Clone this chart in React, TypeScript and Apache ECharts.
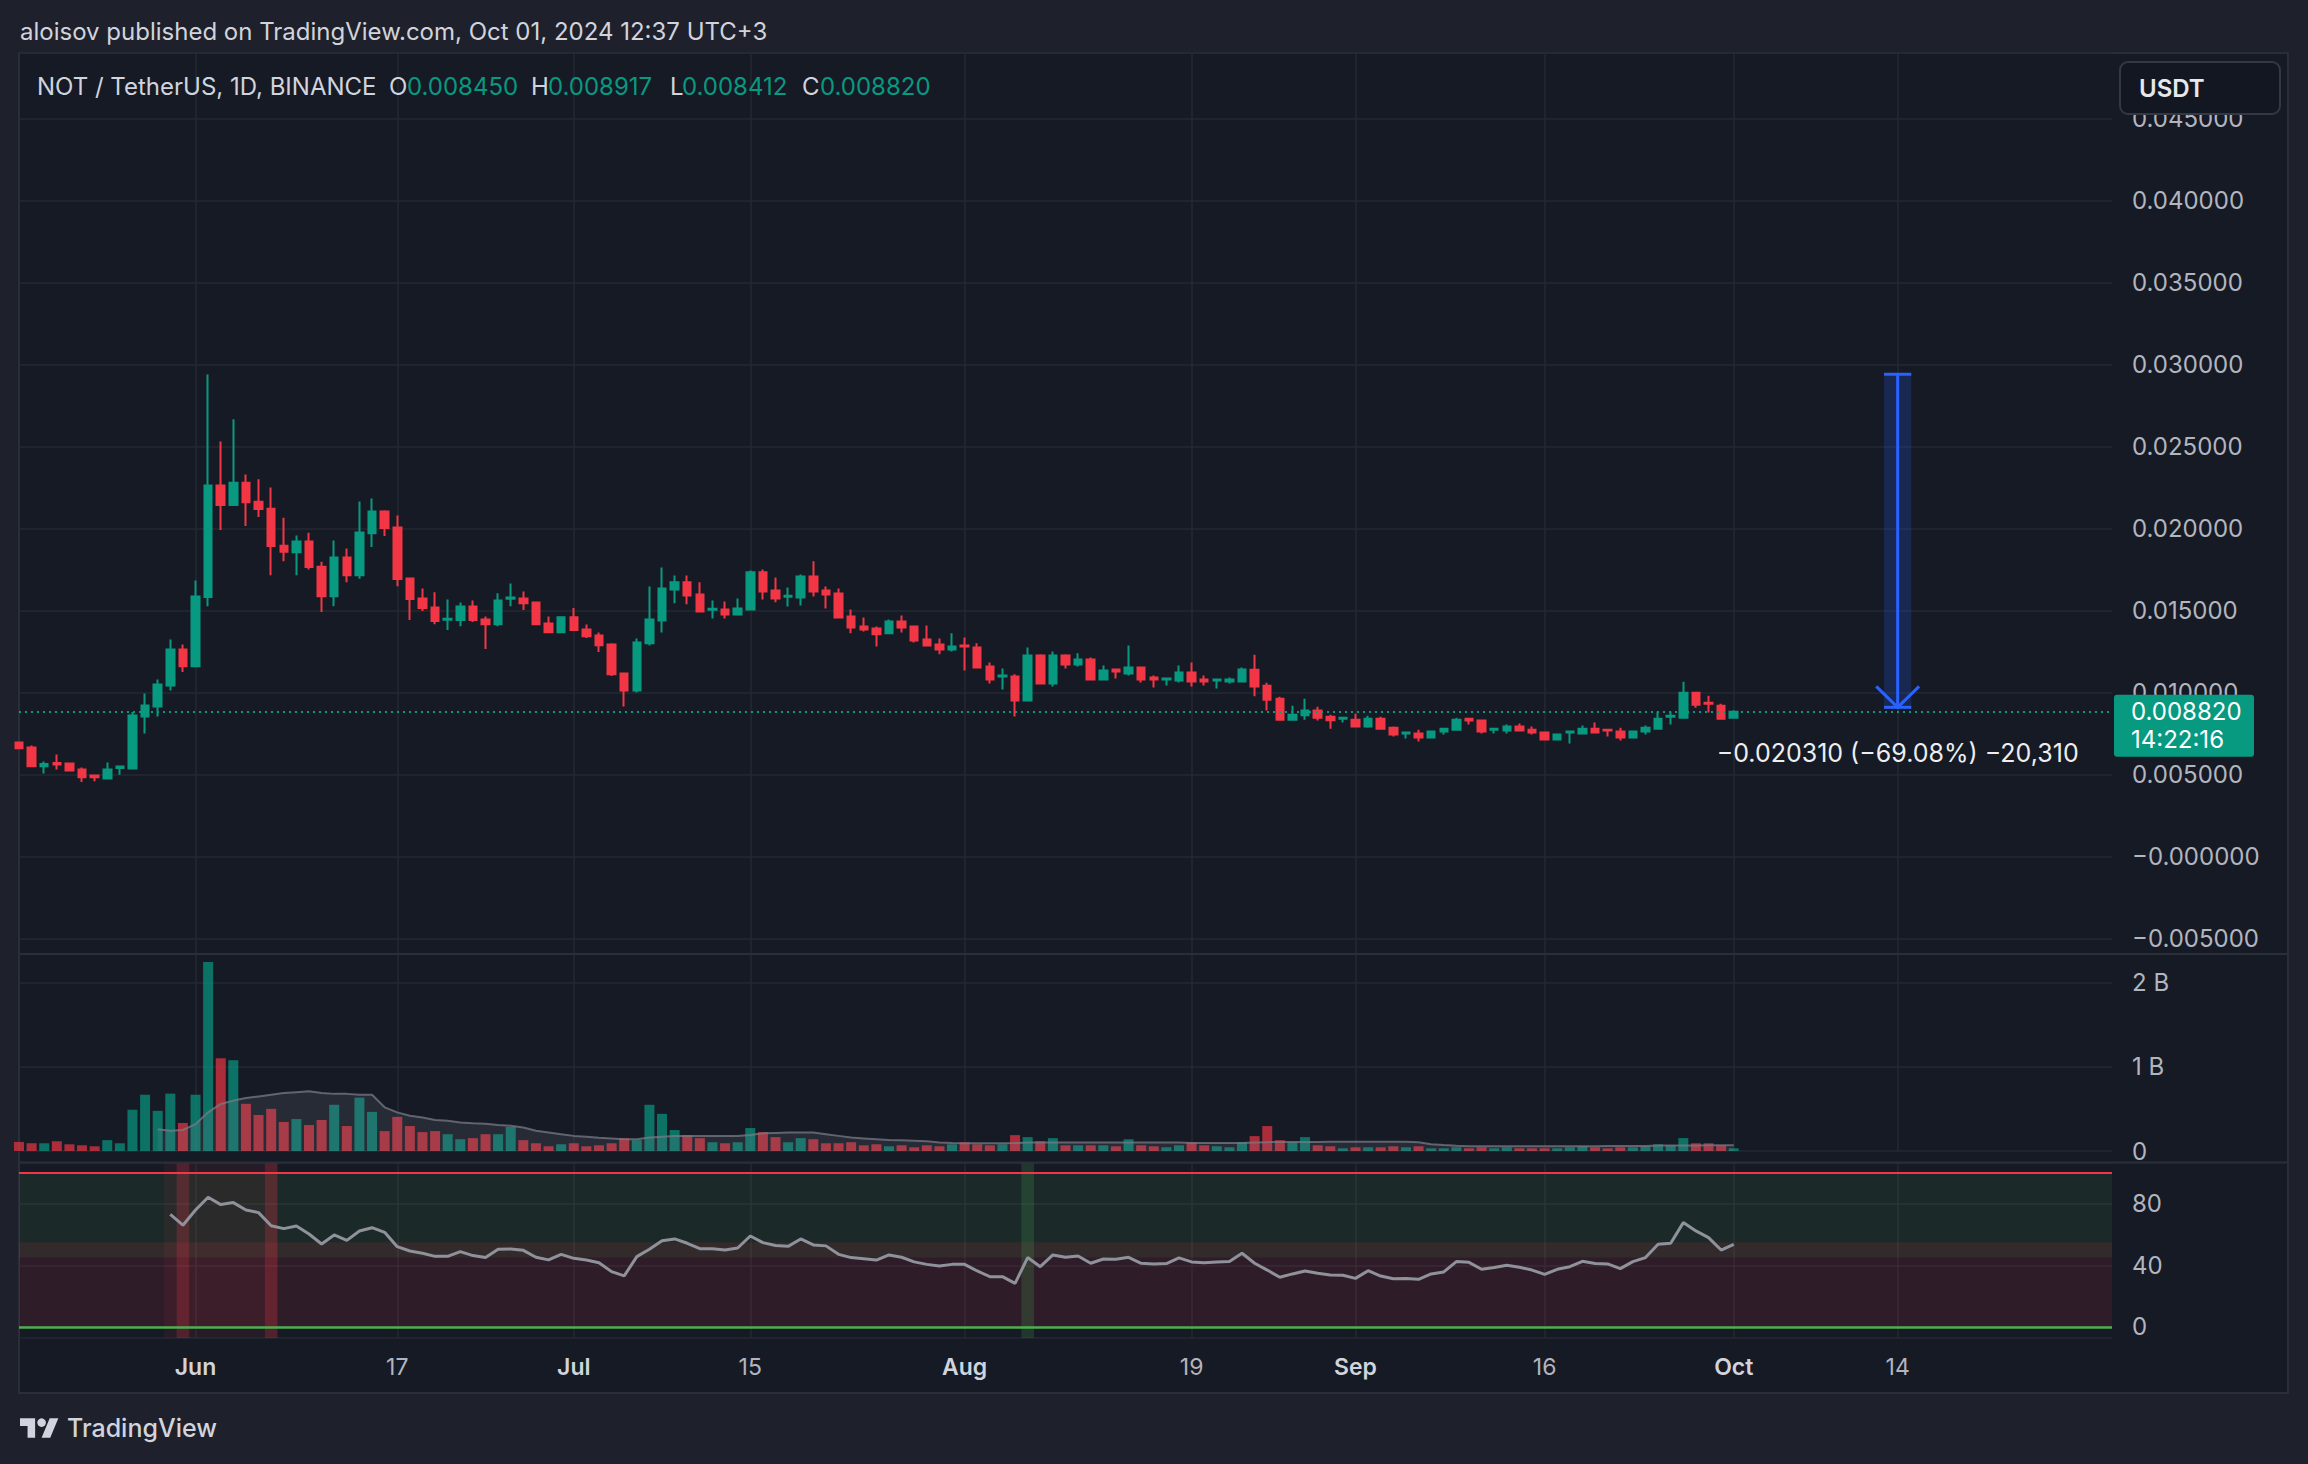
import React, { useEffect, useRef } from "react";
import * as echarts from "echarts";

const FONT = "Inter, 'Noto Sans', Roboto, sans-serif";
const UP = "#089981";
const DOWN = "#f23645";
const OUTER_BG = "#1e212b";
const INNER_BG = "#161a25";
const GRID_LINE = "#242833";
const AXIS_TEXT = "#b2b5be";
const TEXT = "#d1d4dc";

// ---------- categories (daily, 2024) ----------
const MONTH_SPANS: [string, number, number][] = [
  ["2024-05", 18, 31],
  ["2024-06", 1, 30],
  ["2024-07", 1, 31],
  ["2024-08", 1, 31],
  ["2024-09", 1, 30],
  ["2024-10", 1, 31],
];
const CATEGORIES: string[] = [];
for (const [ym, a, b] of MONTH_SPANS) {
  for (let d = a; d <= b; d++) CATEGORIES.push(`${ym}-${String(d).padStart(2, "0")}`);
}

const X_TICK_DATES = [
  "2024-06-01", "2024-06-17", "2024-07-01", "2024-07-15", "2024-08-01",
  "2024-08-19", "2024-09-01", "2024-09-16", "2024-10-01", "2024-10-14",
];
const X_TICK_LABELS = ["Jun", "17", "Jul", "15", "Aug", "19", "Sep", "16", "Oct", "14"];

// ---------- candles: [open, close, low, high] ----------
const CANDLES_MAY = [
  [0.00695, 0.0066, 0.00655, 0.007],
  [0.00664, 0.0055, 0.0055, 0.00676],
  [0.0055, 0.00564, 0.00505, 0.00579],
  [0.0057, 0.0056, 0.0053, 0.00621],
  [0.00567, 0.00524, 0.00518, 0.00573],
  [0.0053, 0.00483, 0.00453, 0.00542],
  [0.00493, 0.00483, 0.00459, 0.00493],
  [0.00475, 0.0053, 0.0047, 0.00573],
  [0.00539, 0.00548, 0.00498, 0.00554],
  [0.00536, 0.00859, 0.0053, 0.0088],
  [0.00853, 0.0092, 0.0075, 0.00993],
  [0.00914, 0.01048, 0.00853, 0.01079],
  [0.01042, 0.01262, 0.01012, 0.01323],
  [0.01262, 0.0116, 0.01124, 0.01292],
];
const CANDLES_JUN = [
  [0.0116, 0.01585, 0.0116, 0.01683],
  [0.01581, 0.02262, 0.01526, 0.02939],
  [0.02262, 0.02142, 0.0199, 0.0253],
  [0.02142, 0.02278, 0.02142, 0.02665],
  [0.02278, 0.0216, 0.02014, 0.02329],
  [0.02162, 0.02118, 0.02069, 0.02299],
  [0.0212, 0.01892, 0.01715, 0.0225],
  [0.01894, 0.01857, 0.018, 0.02065],
  [0.01855, 0.0192, 0.01715, 0.01957],
  [0.0192, 0.01764, 0.0175, 0.01973],
  [0.01766, 0.01587, 0.0149, 0.01796],
  [0.01587, 0.01823, 0.01526, 0.01927],
  [0.01823, 0.01715, 0.01672, 0.01878],
  [0.01715, 0.01975, 0.01693, 0.02164],
  [0.01971, 0.02103, 0.01886, 0.02183],
  [0.02103, 0.02002, 0.01953, 0.0211],
  [0.02006, 0.01691, 0.01648, 0.02079],
  [0.01695, 0.01569, 0.01441, 0.01701],
  [0.01573, 0.01514, 0.01496, 0.01634],
  [0.01518, 0.01435, 0.01416, 0.0161],
  [0.01443, 0.01449, 0.0138, 0.01567],
  [0.01441, 0.01524, 0.01404, 0.01548],
  [0.01524, 0.01441, 0.01429, 0.01561],
  [0.01445, 0.01416, 0.01264, 0.01463],
  [0.01416, 0.01561, 0.01404, 0.01604],
  [0.01571, 0.01579, 0.01526, 0.01664],
  [0.01573, 0.01544, 0.01502, 0.01616],
  [0.01548, 0.01416, 0.01416, 0.01555],
  [0.0142, 0.01367, 0.01367, 0.01463],
  [0.01367, 0.01459, 0.01361, 0.01463],
];
const CANDLES_JUL = [
  [0.01459, 0.0138, 0.0138, 0.01514],
  [0.01384, 0.01343, 0.01331, 0.01414],
  [0.01347, 0.01288, 0.01246, 0.01366],
  [0.01292, 0.0111, 0.011, 0.01299],
  [0.01116, 0.01012, 0.00914, 0.01122],
  [0.01012, 0.01305, 0.01, 0.01329],
  [0.01299, 0.01445, 0.01286, 0.01646],
  [0.01439, 0.01634, 0.01366, 0.01762],
  [0.01628, 0.01671, 0.01543, 0.01713],
  [0.01671, 0.01591, 0.01537, 0.01713],
  [0.01597, 0.01494, 0.01488, 0.01671],
  [0.01504, 0.0151, 0.01451, 0.01561],
  [0.01506, 0.01475, 0.01451, 0.01555],
  [0.01475, 0.01512, 0.01469, 0.01573],
  [0.01506, 0.01732, 0.01506, 0.01744],
  [0.01732, 0.01616, 0.01567, 0.0175],
  [0.01622, 0.01573, 0.01549, 0.01701],
  [0.01583, 0.01589, 0.01524, 0.0164],
  [0.01579, 0.01707, 0.0153, 0.01719],
  [0.01707, 0.01616, 0.01585, 0.01799],
  [0.01622, 0.01597, 0.01512, 0.01646],
  [0.01603, 0.01457, 0.01451, 0.01634],
  [0.01463, 0.01396, 0.0136, 0.01506],
  [0.01402, 0.01384, 0.01372, 0.01457],
  [0.0139, 0.01354, 0.0128, 0.01402],
  [0.0136, 0.01433, 0.01354, 0.01445],
  [0.01433, 0.01396, 0.01366, 0.01469],
  [0.01402, 0.01317, 0.01305, 0.01402],
  [0.01323, 0.01286, 0.01286, 0.01408],
  [0.01292, 0.01262, 0.01232, 0.01329],
  [0.01262, 0.0128, 0.0125, 0.0136],
];
const CANDLES_AUG = [
  [0.01286, 0.0128, 0.01134, 0.01335],
  [0.01274, 0.01152, 0.01152, 0.01299],
  [0.01158, 0.01079, 0.01055, 0.01183],
  [0.01097, 0.01103, 0.01018, 0.01146],
  [0.01097, 0.00951, 0.00853, 0.0111],
  [0.00951, 0.01225, 0.00951, 0.01274],
  [0.01225, 0.01055, 0.01055, 0.01232],
  [0.01055, 0.01225, 0.01036, 0.0125],
  [0.01225, 0.0117, 0.01146, 0.01232],
  [0.0117, 0.01201, 0.01158, 0.01238],
  [0.01201, 0.01079, 0.01079, 0.01213],
  [0.01079, 0.01134, 0.01073, 0.01164],
  [0.0114, 0.01128, 0.01085, 0.0114],
  [0.01116, 0.01152, 0.01103, 0.01286],
  [0.01152, 0.01079, 0.01061, 0.01158],
  [0.01091, 0.01079, 0.0103, 0.01103],
  [0.01079, 0.01085, 0.01042, 0.01091],
  [0.01073, 0.01122, 0.01061, 0.01164],
  [0.01122, 0.01067, 0.01036, 0.01183],
  [0.01079, 0.01067, 0.01042, 0.01103],
  [0.01073, 0.01079, 0.01024, 0.01079],
  [0.01067, 0.01079, 0.01055, 0.01091],
  [0.01067, 0.0114, 0.01061, 0.01152],
  [0.01138, 0.01036, 0.00976, 0.01229],
  [0.0104, 0.00955, 0.00889, 0.01059],
  [0.00962, 0.00834, 0.00828, 0.00974],
  [0.00834, 0.00864, 0.00834, 0.00919],
  [0.0086, 0.00889, 0.00834, 0.00962],
  [0.00889, 0.00846, 0.00828, 0.00913],
  [0.00852, 0.0083, 0.00779, 0.00864],
  [0.0084, 0.00846, 0.00816, 0.00846],
];
const CANDLES_SEP = [
  [0.00834, 0.00792, 0.00792, 0.0087],
  [0.00792, 0.0084, 0.00785, 0.00858],
  [0.0084, 0.00779, 0.00779, 0.00852],
  [0.00785, 0.00743, 0.00731, 0.00792],
  [0.00749, 0.00755, 0.00719, 0.00761],
  [0.00749, 0.00725, 0.007, 0.00773],
  [0.00725, 0.00761, 0.00725, 0.00767],
  [0.00761, 0.00779, 0.00743, 0.00785],
  [0.00773, 0.00834, 0.00767, 0.00846],
  [0.0084, 0.00828, 0.00804, 0.0084],
  [0.00828, 0.00761, 0.00749, 0.00828],
  [0.00773, 0.00779, 0.00749, 0.00785],
  [0.00767, 0.00792, 0.00749, 0.00804],
  [0.00792, 0.00767, 0.00761, 0.0081],
  [0.00773, 0.00755, 0.00743, 0.00792],
  [0.00755, 0.00713, 0.00707, 0.00755],
  [0.00713, 0.00743, 0.00707, 0.00749],
  [0.00755, 0.00761, 0.00688, 0.00761],
  [0.00749, 0.00779, 0.00749, 0.00798],
  [0.00779, 0.00755, 0.00755, 0.00816],
  [0.00773, 0.00767, 0.00731, 0.00773],
  [0.00761, 0.00725, 0.00707, 0.00785],
  [0.00725, 0.00761, 0.00719, 0.00767],
  [0.00761, 0.00785, 0.00743, 0.00798],
  [0.00779, 0.0084, 0.00779, 0.00883],
  [0.00852, 0.00858, 0.00804, 0.00883],
  [0.00846, 0.00998, 0.00846, 0.01065],
  [0.00998, 0.00925, 0.00907, 0.01004],
  [0.00937, 0.00931, 0.00877, 0.0098],
  [0.00919, 0.0084, 0.00834, 0.00931],
];
const CANDLES_OCT = [[0.00845, 0.00882, 0.008412, 0.008917]];
const CANDLES = [
  ...CANDLES_MAY, ...CANDLES_JUN, ...CANDLES_JUL, ...CANDLES_AUG, ...CANDLES_SEP, ...CANDLES_OCT,
];

// ---------- volume (billions) ----------
const VOL_MAY = [0.108, 0.092, 0.092, 0.116, 0.08, 0.068, 0.056, 0.129, 0.092, 0.49, 0.67, 0.478, 0.683, 0.333];
const VOL_JUN = [
  0.67, 2.249, 1.104, 1.08, 0.562, 0.43, 0.502, 0.345, 0.38, 0.309, 0.369, 0.55, 0.297, 0.635, 0.466,
  0.237, 0.406, 0.297, 0.225, 0.237, 0.2, 0.14, 0.153, 0.2, 0.2, 0.285, 0.129, 0.092, 0.056, 0.08,
];
const VOL_JUL = [
  0.092, 0.056, 0.068, 0.092, 0.153, 0.129, 0.55, 0.442, 0.249, 0.189, 0.153, 0.104, 0.092, 0.104, 0.273,
  0.225, 0.165, 0.104, 0.153, 0.14, 0.092, 0.092, 0.104, 0.068, 0.08, 0.056, 0.068, 0.044, 0.068, 0.056, 0.08,
];
const VOL_AUG = [
  0.104, 0.08, 0.068, 0.08, 0.189, 0.165, 0.116, 0.153, 0.068, 0.068, 0.068, 0.068, 0.056, 0.14, 0.068,
  0.056, 0.044, 0.068, 0.104, 0.068, 0.056, 0.044, 0.104, 0.177, 0.297, 0.129, 0.104, 0.165, 0.068, 0.056, 0.032,
];
const VOL_SEP = [
  0.044, 0.044, 0.044, 0.056, 0.044, 0.056, 0.032, 0.032, 0.044, 0.032, 0.044, 0.032, 0.044, 0.032, 0.032,
  0.032, 0.032, 0.044, 0.056, 0.044, 0.032, 0.044, 0.044, 0.056, 0.08, 0.068, 0.153, 0.092, 0.092, 0.068,
];
const VOL_OCT = [0.032];
const VOLUME = [...VOL_MAY, ...VOL_JUN, ...VOL_JUL, ...VOL_AUG, ...VOL_SEP, ...VOL_OCT];

// ---------- volume moving average (billions) ----------
const VMA_MAY = [null, null, null, null, null, null, null, null, null, null, null, 0.26, 0.24, 0.25];
const VMA_JUN = [
  0.32, 0.46, 0.56, 0.6, 0.63, 0.65, 0.67, 0.69, 0.7, 0.71, 0.69, 0.68, 0.68, 0.67, 0.67,
  0.52, 0.46, 0.42, 0.4, 0.37, 0.36, 0.34, 0.33, 0.325, 0.31, 0.3, 0.28, 0.24, 0.22, 0.2,
];
const VMA_JUL = [
  0.18, 0.17, 0.157, 0.15, 0.14, 0.14, 0.16, 0.17, 0.18, 0.18, 0.18, 0.18, 0.18, 0.18, 0.19,
  0.21, 0.215, 0.22, 0.22, 0.22, 0.2, 0.18, 0.16, 0.15, 0.14, 0.13, 0.128, 0.122, 0.116, 0.1, 0.095,
];
const VMA_AUG = [
  0.092, 0.092, 0.092, 0.092, 0.095, 0.1, 0.1, 0.1, 0.1, 0.1, 0.1, 0.1, 0.1, 0.1, 0.1,
  0.1, 0.1, 0.1, 0.095, 0.095, 0.095, 0.095, 0.095, 0.1, 0.105, 0.108, 0.108, 0.108, 0.108, 0.11, 0.11,
];
const VMA_SEP = [
  0.11, 0.11, 0.11, 0.11, 0.11, 0.105, 0.08, 0.07, 0.062, 0.058, 0.056, 0.056, 0.056, 0.056, 0.056,
  0.056, 0.056, 0.056, 0.056, 0.056, 0.06, 0.06, 0.06, 0.06, 0.064, 0.064, 0.064, 0.064, 0.068, 0.068,
];
const VMA_OCT = [0.068];
const VOL_MA = [...VMA_MAY, ...VMA_JUN, ...VMA_JUL, ...VMA_AUG, ...VMA_SEP, ...VMA_OCT];

// ---------- RSI ----------
const RSI_MAY = [null, null, null, null, null, null, null, null, null, null, null, null, 73.1, 66.0];
const RSI_JUN = [
  75.9, 84.2, 79.4, 80.7, 75.9, 74.2, 65.7, 63.8, 65.5, 60.3, 53.8, 59.7, 56.2, 62.3, 64.4,
  61.4, 52.1, 49.3, 47.8, 45.8, 45.8, 48.9, 46.3, 45.0, 50.4, 50.6, 49.7, 45.2, 43.5, 47.1,
];
const RSI_JUL = [
  44.5, 43.4, 41.7, 35.9, 33.1, 45.6, 50.4, 56.0, 57.1, 54.3, 50.8, 50.8, 49.9, 51.2, 59.0,
  54.7, 52.8, 52.3, 57.1, 53.2, 52.6, 47.1, 45.0, 44.3, 43.4, 46.7, 45.2, 42.2, 40.6, 39.6, 40.6,
];
const RSI_AUG = [
  40.6, 36.3, 32.6, 32.6, 28.3, 45.0, 39.1, 46.7, 45.2, 46.0, 41.3, 44.1, 43.9, 45.2, 41.3,
  40.9, 41.1, 44.8, 42.2, 41.7, 42.2, 42.4, 47.8, 41.3, 36.9, 32.2, 34.4, 36.3, 34.8, 33.7, 33.5,
];
const RSI_SEP = [
  31.5, 36.5, 33.0, 31.3, 31.5, 30.9, 34.4, 35.7, 42.4, 41.9, 37.4, 38.5, 40.0, 38.7, 36.9,
  34.1, 37.4, 39.1, 42.6, 41.1, 40.9, 37.8, 42.4, 45.0, 53.6, 54.3, 67.7, 62.3, 58.0, 49.9,
];
const RSI_OCT = [53.6];
const RSI = [...RSI_MAY, ...RSI_JUN, ...RSI_JUL, ...RSI_AUG, ...RSI_SEP, ...RSI_OCT];
const RSI_UPPER = 100;
const RSI_LOWER = 0;
const RSI_BULL_ZONE = [45, 100];
const RSI_BEAR_ZONE = [0, 55];
const RSI_HL_RANGES: [string, string][] = [
  ["2024-05-30", "2024-06-07"],
  ["2024-05-31", "2024-05-31"],
  ["2024-06-07", "2024-06-07"],
  ["2024-08-06", "2024-08-06"],
];
const RSI_HL_KIND = ["zone", "sell", "sell", "buy"];

// ---------- annotations ----------
const HEADER_TEXT = "aloisov published on TradingView.com, Oct 01, 2024 12:37 UTC+3";
const LEGEND_SYMBOL = "NOT / TetherUS, 1D, BINANCE";
const CURRENCY = "USDT";
const COUNTDOWN = "14:22:16";
const MEASURE_DATE = "2024-10-14";
const MEASURE_FROM = 0.0294;
const MEASURE_TO = 0.00909;
const MEASURE_LABEL = "\u22120.020310 (\u221269.08%) \u221220,310";

const LAST = CANDLES[CANDLES.length - 1];

// ---------- layout ----------
const W = 2308;
const H = 1464;
const PLOT_L = 19;
const PLOT_R = 2112;
const FRAME_R = 2288;
const PRICE_TOP = 53;
const PRICE_H = 901;
const VOL_TOP = 954;
const VOL_H = 197;
const RSI_TOP = 1163;
const RSI_H = 175;
const PRICE_MIN = -0.005951;
const PRICE_MAX = 0.048988;
const VOL_MAX = 2.345e9;
const RSI_MIN = -7.2;
const RSI_MAX = 106.4;

const LOGO_D = "M14 22H7V11H0V4h14v18zM28 22h-8l7.5-18h8L28 22z";
let logoRegistered = false;
function ensureLogo() {
  if (logoRegistered) return;
  echarts.graphic.registerShape("tvlogo", echarts.graphic.extendPath(LOGO_D, {}) as any);
  logoRegistered = true;
}

const fmtPrice = (v: number) => (v <= 1e-12 ? "\u2212" : "") + Math.abs(v).toFixed(6);
const fmtVol = (v: number) => (v === 0 ? "0" : `${Math.round(v / 1e9)} B`);

function buildOption() {
  const tickSet = new Set(X_TICK_DATES);
  const isTick = (_i: number, v: string) => tickSet.has(v);
  const splitLine = { show: true, lineStyle: { color: GRID_LINE, width: 1.5 } };

  const xAxis = [0, 1, 2].map((g) => ({
    type: "category",
    gridIndex: g,
    data: CATEGORIES,
    boundaryGap: false,
    axisLine: { show: false },
    axisTick: { show: false },
    splitLine: { show: true, interval: isTick, lineStyle: { color: GRID_LINE, width: 1.5 } },
    axisLabel:
      g === 2
        ? {
            show: true,
            interval: isTick,
            margin: 17,
            color: AXIS_TEXT,
            fontSize: 23,
            fontFamily: FONT,
            formatter: (v: string) => {
              const t = X_TICK_LABELS[X_TICK_DATES.indexOf(v)];
              return v.endsWith("-01") ? `{m|${t}}` : `{d|${t}}`;
            },
            rich: {
              m: { fontWeight: 600, color: TEXT, fontSize: 23, fontFamily: FONT },
              d: { fontWeight: 400, color: AXIS_TEXT, fontSize: 23, fontFamily: FONT },
            },
          }
        : { show: false },
  }));

  const yLabel = { color: AXIS_TEXT, fontSize: 24, fontFamily: FONT, margin: 20, align: "left" };
  const yAxis = [
    {
      type: "value", gridIndex: 0, position: "right", min: PRICE_MIN, max: PRICE_MAX,
      splitNumber: 11, minInterval: 0.005, maxInterval: 0.005,
      axisLine: { show: false }, axisTick: { show: false }, splitLine,
      axisLabel: { ...yLabel, showMinLabel: false, showMaxLabel: false, formatter: fmtPrice },
    },
    {
      type: "value", gridIndex: 1, position: "right", min: 0, max: VOL_MAX,
      splitNumber: 2, minInterval: 1e9, maxInterval: 1e9,
      axisLine: { show: false }, axisTick: { show: false }, splitLine,
      axisLabel: { ...yLabel, showMinLabel: true, showMaxLabel: false, formatter: fmtVol },
    },
    {
      type: "value", gridIndex: 2, position: "right", min: RSI_MIN, max: RSI_MAX,
      splitNumber: 3, minInterval: 40, maxInterval: 40,
      axisLine: { show: false }, axisTick: { show: false }, splitLine,
      axisLabel: { ...yLabel, showMinLabel: false, showMaxLabel: false },
    },
  ];

  const grid = [
    { left: PLOT_L, width: PLOT_R - PLOT_L, top: PRICE_TOP, height: PRICE_H },
    { left: PLOT_L, width: PLOT_R - PLOT_L, top: VOL_TOP, height: VOL_H },
    { left: PLOT_L, width: PLOT_R - PLOT_L, top: RSI_TOP, height: RSI_H },
  ];

  const hlStyle: Record<string, string> = {
    zone: "rgba(242,54,69,0.07)",
    sell: "rgba(242,54,69,0.22)",
    buy: "rgba(76,175,80,0.2)",
  };

  const series: any[] = [
    {
      type: "candlestick",
      xAxisIndex: 0,
      yAxisIndex: 0,
      data: CANDLES,
      barWidth: 8,
      silent: true,
      itemStyle: { color: UP, color0: DOWN, borderColor: UP, borderColor0: DOWN, borderWidth: 2 },
      markLine: {
        silent: true,
        precision: 6,
        symbol: ["none", "none"],
        label: { show: false },
        lineStyle: { color: UP, type: [2, 4], width: 2 },
        data: [{ yAxis: LAST[1] }],
      },
    },
    {
      type: "custom",
      xAxisIndex: 0,
      yAxisIndex: 0,
      silent: true,
      z: 10,
      encode: { x: 0, y: [1, 2] },
      data: [[CATEGORIES.indexOf(MEASURE_DATE), MEASURE_FROM, MEASURE_TO]],
      renderItem: (_params: any, api: any) => {
        const xi = api.value(0);
        const pTop = api.coord([xi, api.value(1)]);
        const pBot = api.coord([xi, api.value(2)]);
        const step = api.coord([xi + 1, api.value(1)])[0] - pTop[0];
        const half = step * 1.08;
        const arm = step * 1.7;
        const x = pTop[0];
        const stroke = { stroke: "#2962ff", lineWidth: 3 };
        return {
          type: "group",
          children: [
            { type: "rect", shape: { x: x - half, y: pTop[1], width: half * 2, height: pBot[1] - pTop[1] }, style: { fill: "rgba(41,98,255,0.2)" } },
            { type: "line", shape: { x1: x, y1: pTop[1], x2: x, y2: pBot[1] - 2 }, style: stroke },
            { type: "line", shape: { x1: x - half, y1: pTop[1], x2: x + half, y2: pTop[1] }, style: stroke },
            { type: "line", shape: { x1: x - half, y1: pBot[1], x2: x + half, y2: pBot[1] }, style: stroke },
            { type: "polyline", shape: { points: [[x - arm, pBot[1] - 21], [x, pBot[1]], [x + arm, pBot[1] - 21]] }, style: { ...stroke, fill: "none" } },
            {
              type: "text",
              x,
              y: pBot[1] + 46,
              style: {
                text: MEASURE_LABEL, fill: "#eceef2", font: `400 25px ${FONT}`,
                align: "center", verticalAlign: "middle", textAlign: "center", textVerticalAlign: "middle",
              },
            },
          ],
        };
      },
    },
    {
      type: "bar",
      xAxisIndex: 1,
      yAxisIndex: 1,
      barWidth: 10,
      silent: true,
      data: VOLUME.map((v, i) => ({
        value: v * 1e9,
        itemStyle: { color: CANDLES[i][1] >= CANDLES[i][0] ? "rgba(8,153,129,0.7)" : "rgba(242,54,69,0.68)" },
      })),
    },
    {
      type: "line",
      xAxisIndex: 1,
      yAxisIndex: 1,
      silent: true,
      symbol: "none",
      data: VOL_MA.map((v) => (v == null ? null : v * 1e9)),
      lineStyle: { color: "rgba(120,123,134,0.75)", width: 2 },
      areaStyle: { color: "rgba(150,152,162,0.2)" },
    },
    {
      type: "custom",
      xAxisIndex: 2,
      yAxisIndex: 2,
      silent: true,
      encode: { x: [0, 1] },
      data: RSI_HL_RANGES.map(([a, b]) => [CATEGORIES.indexOf(a), CATEGORIES.indexOf(b)]),
      renderItem: (params: any, api: any) => {
        const a = api.value(0);
        const b = api.value(1);
        const p0 = api.coord([a, 50]);
        const p1 = api.coord([b, 50]);
        const step = api.coord([a + 1, 50])[0] - p0[0];
        const cs = params.coordSys;
        return {
          type: "rect",
          shape: { x: p0[0] - step / 2, y: cs.y, width: p1[0] - p0[0] + step, height: cs.height },
          style: { fill: hlStyle[RSI_HL_KIND[params.dataIndex]] },
        };
      },
    },
    {
      type: "line",
      xAxisIndex: 2,
      yAxisIndex: 2,
      silent: true,
      symbol: "none",
      data: RSI,
      lineStyle: { color: "#8f929b", width: 3 },
      markArea: {
        silent: true,
        data: [
          [{ yAxis: RSI_BULL_ZONE[0], itemStyle: { color: "rgba(76,175,80,0.1)" } }, { yAxis: RSI_BULL_ZONE[1] }],
          [{ yAxis: RSI_BEAR_ZONE[0], itemStyle: { color: "rgba(242,54,69,0.11)" } }, { yAxis: RSI_BEAR_ZONE[1] }],
        ],
      },
      markLine: {
        silent: true,
        symbol: ["none", "none"],
        label: { show: false },
        data: [
          { yAxis: RSI_UPPER, lineStyle: { color: "#f23645", width: 2, type: "solid" } },
          { yAxis: RSI_LOWER, lineStyle: { color: "#4caf50", width: 2.5, type: "solid" } },
        ],
      },
    },
  ];

  const txt = (id: string, x: number, y: number, text: string, fill: string, font: string, z = 100) => ({
    id, type: "text", x, y, z,
    style: { text, fill, font, verticalAlign: "middle", textVerticalAlign: "middle", align: "left", textAlign: "left" },
  });
  const legendFont = `400 24px ${FONT}`;
  const ohlc: [string, number, number, number][] = [
    ["O", LAST[0], 389, 407],
    ["H", LAST[3], 531, 548],
    ["L", LAST[2], 670, 682],
    ["C", LAST[1], 802, 820],
  ];

  const graphic: any[] = [
    txt("hdr", 20, 31, HEADER_TEXT, TEXT, `400 24px ${FONT}`),
    txt("sym", 37, 86, LEGEND_SYMBOL, TEXT, legendFont),
    ...ohlc.flatMap(([k, v, xk, xv]) => [
      txt(`k${k}`, xk, 86, k, TEXT, legendFont),
      txt(`v${k}`, xv, 86, v.toFixed(6), UP, legendFont),
    ]),
    { id: "usdtBox", type: "rect", z: 100, shape: { x: 2120, y: 62, width: 160, height: 52, r: 8 }, style: { fill: "#131722", stroke: "#343844", lineWidth: 2 } },
    txt("usdtTxt", 2139, 88, CURRENCY, "#e6e8ee", `600 24px ${FONT}`, 101),
    { id: "sep1", type: "line", z: 100, shape: { x1: PLOT_L, y1: 954, x2: FRAME_R, y2: 954 }, style: { stroke: "#2a2e39", lineWidth: 2 } },
    { id: "sep2", type: "line", z: 100, shape: { x1: PLOT_L, y1: 1162.5, x2: FRAME_R, y2: 1162.5 }, style: { stroke: "#2a2e39", lineWidth: 2 } },
    { id: "logo", type: "tvlogo", z: 100, x: 20, y: 1414, scaleX: 1.08, scaleY: 1.08, style: { fill: TEXT } },
    { id: "logoDot", type: "circle", z: 100, shape: { cx: 41.6, cy: 1422.6, r: 4.3 }, style: { fill: TEXT } },
    txt("logoTxt", 67, 1428, "TradingView", TEXT, `500 25px ${FONT}`),
  ];

  return {
    animation: false,
    backgroundColor: "transparent",
    textStyle: { fontFamily: FONT },
    grid,
    xAxis,
    yAxis,
    series,
    graphic,
  };
}

export default function App() {
  const ref = useRef<HTMLDivElement>(null);
  useEffect(() => {
    if (!ref.current) return;
    ensureLogo();
    const chart = echarts.init(ref.current, null, { renderer: "svg", width: W, height: H });
    chart.setOption(buildOption() as any);
    const y = chart.convertToPixel({ yAxisIndex: 0 } as any, LAST[1]) as unknown as number;
    chart.setOption({
      graphic: [
        { id: "tagBox", type: "rect", z: 110, shape: { x: 2114, y: y - 17, width: 140, height: 62, r: 3 }, style: { fill: UP } },
        {
          id: "tagPrice", type: "text", z: 111, x: 2131, y,
          style: { text: LAST[1].toFixed(6), fill: "#ffffff", font: `400 24px ${FONT}`, verticalAlign: "middle", textVerticalAlign: "middle" },
        },
        {
          id: "tagTime", type: "text", z: 111, x: 2131, y: y + 28,
          style: { text: COUNTDOWN, fill: "#ffffff", font: `400 24px ${FONT}`, verticalAlign: "middle", textVerticalAlign: "middle" },
        },
      ],
    } as any);
    return () => chart.dispose();
  }, []);

  return (
    <div style={{ position: "fixed", left: 0, top: 0, width: W, height: H, background: OUTER_BG, overflow: "hidden" }}>
      <div
        style={{
          position: "absolute", left: 18, top: 52, width: FRAME_R - 18 + 1, height: 1394 - 52,
          background: INNER_BG, border: "2px solid #2a2e39", boxSizing: "border-box",
        }}
      />
      <div ref={ref} style={{ position: "absolute", left: 0, top: 0, width: W, height: H }} />
    </div>
  );
}
